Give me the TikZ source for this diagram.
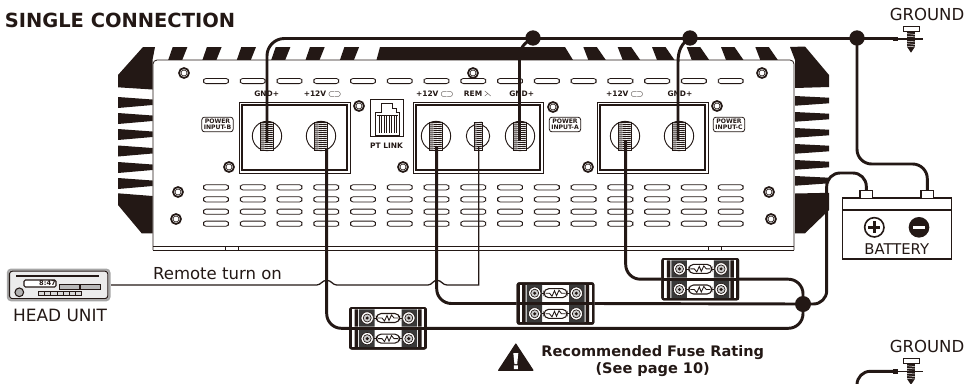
\documentclass[tikz,border=0pt]{standalone}
\usepackage{amsmath}
\usepackage{amssymb}
\usepackage{fontspec}
\usepackage{xcolor}
\setmainfont{DejaVu Sans}
\definecolor{inkblack}{RGB}{35,24,21}
\tikzset{
  wire/.style={color=inkblack,line width=2.2pt,line join=round},
  thinwire/.style={color=inkblack,line width=0.95pt},
  bodyline/.style={color=inkblack,line width=0.6pt},
  solder/.style={circle,fill=inkblack,inner sep=0pt,minimum size=#1},
  termring/.style={circle,draw=inkblack,line width=0.7pt,fill=white,inner sep=0pt,minimum size=#1},
  tinylab/.style={font=\bfseries\fontsize{5.6}{6}\selectfont,color=inkblack,inner sep=0pt},
  pwrlab/.style={font=\bfseries\fontsize{4.6}{4.8}\selectfont,color=inkblack,draw=inkblack,line width=0.6pt,rounded corners=2pt,align=center,inner sep=0pt,minimum width=23.5pt,minimum height=11pt},
  biglab/.style={font=\fontsize{12.4}{14}\selectfont,color=inkblack,inner sep=0pt},
  boldlab/.style={font=\bfseries\fontsize{10.9}{12}\selectfont,color=inkblack,inner sep=0pt},
  fusebox/.style={draw=inkblack,fill=inkblack,line width=0.8pt,rounded corners=1.5pt,inner sep=0pt,minimum width=57.5pt,minimum height=31pt},
  pics/termscrew/.style={code={
    \fill[white] (-#1,-14) rectangle (#1,14);
    \foreach \yy in {-13,-11,...,13.2} {\draw[color=inkblack,line width=0.7pt] (-#1,\yy) -- (#1,\yy+0.8);}
    \draw[color=inkblack,line width=0.45pt] (-#1,-14) rectangle (#1,14);
  }},
  pics/fuserow/.style={code={
    \fill[white] (-36,-8.6) rectangle (36,8.6);
    \fill[inkblack] (-33.5,-8.6) rectangle (-30,8.6) (33.5,-8.6) rectangle (30,8.6);
    \fill[gray!45!black] (-29,-8.6) rectangle (-13.5,8.6) (29,-8.6) rectangle (13.5,8.6);
    \foreach \sx in {-1,1} {
      \draw[color=inkblack,fill=white,line width=0.5pt] (\sx*20.8,0) circle (6.2);
      \draw[color=inkblack,fill=gray!40,line width=0.5pt] (\sx*20.8,0) circle (4);
      \fill[inkblack] (\sx*20.8,0) circle (1.7);
    }
    \draw[color=inkblack,line width=0.5pt] (-14,0) -- (14,0);
    \draw[color=inkblack,fill=white,line width=0.8pt,rounded corners=3.5pt] (-11.5,-4.5) rectangle (11.5,4.5);
    \draw[color=inkblack,line width=0.65pt] (-10,0) -- (-6,0) -- (-3.5,-3) -- (-1,2.5) -- (1,-2.5) -- (3.5,3) -- (6,0) -- (10,0);
  }},
  pics/groundscrew/.style={code={
    \fill[inkblack] (-4,5) rectangle (4,20);
    \fill[inkblack] (-4,20) -- (4,20) -- (0,26) -- cycle;
    \foreach \yy in {7,9.5,...,20} {\draw[white,line width=0.35pt] (-4,\yy) -- (4,\yy+0.7);}
    \draw[color=inkblack,fill=white,line width=0.7pt] (-8,0) rectangle (8,5);
    \draw[color=inkblack,line width=1.2pt] (-14,12.5) -- (12,12.5);
  }},
}

\begin{document}
\begin{tikzpicture}[x=0.75pt,y=0.75pt,yscale=-1,xscale=1]
\useasboundingbox (0,0) rectangle (969,383);

%Shape: Fins
\fill[inkblack] (118,75) -- (143,47) -- (155,47) -- (152.5,60) -- (152.5,89.5) -- (118,87.3) -- cycle;
\fill[inkblack] (829,75) -- (805,46.5) -- (790,47) -- (795,60) -- (795,88) -- (829,87) -- cycle;
\foreach \yy in {97,113,129,145.5,162,178} {
  \fill[inkblack] (118,\yy) -- (152.5,\yy+2.5) -- (152.5,\yy+8) -- (118,\yy+11) -- cycle;
}
\foreach \yy in {96,112,128,144,160,176} {
  \fill[inkblack] (795,\yy) -- (829,\yy+1.7) -- (829,\yy+7.3) -- (795,\yy+9.7) -- cycle;
}
\fill[inkblack] (118,193.3) -- (152.5,196) -- (152.5,233.3) -- (141.7,233.3) -- (118,205) -- cycle;
\fill[inkblack] (829,192.8) -- (795,193.5) -- (795,233.3) -- (805,233.3) -- (829,210) -- cycle;

%Shape: Top stripes
\fill[inkblack] (380,47) -- (565,47) -- (573,60) -- (376.5,60) -- cycle;
\foreach \xx in {172.7,206.9,241.3,275.7,310,344.4} {
  \fill[inkblack] (\xx,47) -- (\xx+14.7,47) -- (\xx+9.5,60) -- (\xx-4.5,60) -- cycle;
}
\foreach \xx in {583.3,617.7,652,686.7,721,755.3} {
  \fill[inkblack] (\xx,47) -- (\xx+13.5,47) -- (\xx+22.5,60) -- (\xx+5,60) -- cycle;
}

%Shape: Body
\draw[bodyline,fill=white,rounded corners=3pt] (153,250) -- (153,60) -- (794,60) -- (794,250);
\draw[bodyline] (153,250) -- (794,250) (153,246) -- (794,246);
\draw[bodyline] (225.5,246) -- (225.5,250) (238,246) -- (238,250) (708,246) -- (708,250) (721,246) -- (721,250);

%Shape: Slots
\foreach \k in {0,...,14} {
  \foreach \yy in {81,187.3,199.4,211.7,223.7} {
    \draw[bodyline,rounded corners=2pt] (216+\k*36.76-12.5,\yy-2.6) rectangle (216+\k*36.76+12.5,\yy+2.6);
  }
}

%Shape: Screws
\foreach \xx/\yy in {184/73,473/73,762/73,359/106,553/107,717/106,229/167,403/167,588/167,178/192,176/219,769/192,771/219} {
  \draw[color=inkblack,fill=white,line width=1.3pt] (\xx,\yy) circle (5);
  \draw[color=inkblack,line width=0.5pt] (\xx,\yy) circle (3);
}

%Shape: Terminal boxes
\foreach \xa/\xb in {239/350,413/543,597/708} {
  \draw[bodyline,fill=white] (\xa,102) rectangle (\xb,173);
  \draw[color=inkblack,line width=0.9pt] (\xa+3,105) rectangle (\xb-3,170);
}

%Shape: Terminals
\node[termring=22pt] (gndB) at (267,136) {};
\node[termring=22pt] (plusB) at (321,136) {};
\node[termring=22pt] (plusA) at (436,136) {};
\node[termring=17.5pt] (remA) at (478,136) {};
\node[termring=22pt] (gndA) at (520,136) {};
\node[termring=22pt] (plusC) at (625,136) {};
\node[termring=22pt] (gndC) at (679,136) {};
\foreach \xx in {267,321,436,520,625,679} {\pic at (\xx,136) {termscrew=6.5};}
\pic at (478,136) {termscrew=4};

%Shape: PT link jack
\draw[bodyline] (370.7,99.3) rectangle (403.3,136);
\draw[bodyline] (375,135) -- (375,112) -- (381.7,112) -- (381.7,103) -- (392.3,103) -- (392.3,108) -- (396,108) -- (396,112) -- (399.5,112) -- (399.5,135) -- cycle;
\foreach \xx in {379,381.5,...,396.5} {\draw[color=inkblack,line width=0.55pt] (\xx,115) -- (\xx,133);}
\draw[bodyline] (377,115) -- (398,115);

% Text Node
\node[tinylab] (labgndB) at (266.7,94) {GND+};
\node[tinylab] (labplusB) at (322.7,94) {+12V$\,\subset\!\supset$};
\node[tinylab] (labplusA) at (435,94) {+12V$\,\subset\!\supset$};
\node[tinylab] (labrem) at (478,94) {REM$\,\leftthreetimes$};
\node[tinylab] (labgndA) at (521.7,94) {GND+};
\node[tinylab] (labplusC) at (625,94) {+12V$\,\subset\!\supset$};
\node[tinylab] (labgndC) at (680,94) {GND+};
\node[tinylab] (labpt) at (386.5,146) {PT LINK};
\node[pwrlab] (inputB) at (217.5,124.5) {POWER\\INPUT-B};
\node[pwrlab] (inputA) at (565,124.5) {POWER\\INPUT-A};
\node[pwrlab] (inputC) at (729,124.5) {POWER\\INPUT-C};

%Shape: Battery
\draw[color=inkblack,fill=white,line width=0.9pt] (842.7,198) rectangle (951.3,259);
\draw[color=inkblack,line width=0.9pt] (842.7,210) -- (951.3,210);
\node[draw=inkblack,fill=white,line width=0.9pt,inner sep=0pt,minimum width=9.5pt,minimum height=5.5pt] (batpos) at (866.3,194.5) {};
\node[draw=inkblack,fill=white,line width=0.9pt,inner sep=0pt,minimum width=9.5pt,minimum height=5.5pt] (batneg) at (927.3,194.5) {};
\node[circle,draw=inkblack,line width=1.2pt,inner sep=0pt,minimum size=14.5pt] (batplus) at (874.3,227.3) {};
\draw[inkblack,line width=1.9pt] (868.3,227.3) -- (880.3,227.3) (874.3,221.3) -- (874.3,233.3);
\node[circle,fill=inkblack,inner sep=0pt,minimum size=15.5pt] (batminus) at (919,227.3) {};
\draw[white,line width=1.9pt] (913,227.3) -- (925,227.3);
\node[biglab,font=\fontsize{11.1}{13}\selectfont] (batlab) at (896.7,249) {BATTERY};

%Shape: Head unit
\draw[color=gray!70,fill=gray!15,line width=1.5pt,rounded corners=2.5pt] (7.8,269.5) rectangle (109.5,300.3);
\draw[color=inkblack,line width=0.8pt,rounded corners=2pt] (9.5,271.2) rectangle (107.8,298.6);
\fill[inkblack] (15.7,274.6) rectangle (99,277.4);
\draw[color=inkblack,fill=white,line width=0.8pt,rounded corners=1pt] (24,280) rectangle (56,287);
\node[font=\bfseries\fontsize{5}{5}\selectfont,color=inkblack,inner sep=0pt] (clock) at (47.5,283.5) {8:47};
\draw[color=inkblack,fill=gray!55,line width=0.6pt] (59,284.7) rectangle (79,289.3) (80.5,284.7) rectangle (100.3,289.3);
\node[circle,draw=inkblack,fill=gray!60,line width=0.8pt,inner sep=0pt,minimum size=6.5pt] (knob) at (19.3,292.3) {};
\foreach \k in {0,...,6} {
  \draw[color=inkblack,fill=gray!30,line width=0.6pt] (38.3+\k*6.2,291) rectangle (38.3+\k*6.2+6.2,295.3);
}
\node[biglab,font=\fontsize{12.7}{14}\selectfont] (headunit) at (60,315) {HEAD UNIT};
\coordinate (headout) at (111,285);

%Shape: Ground screws
\pic[transform shape] at (911,26.7) {groundscrew};
\pic[transform shape] at (911,358.8) {groundscrew};
\fill[inkblack] (893,36.5) rectangle (897.5,41);
\fill[inkblack] (893,369) rectangle (897.5,373.5);
\node[biglab] (gndtop) at (927,14.5) {GROUND};
\node[biglab] (gndbot) at (927,346.7) {GROUND};

% Text Node
\node[anchor=west,inner sep=0pt,color=inkblack,font=\bfseries\fontsize{14.6}{16}\selectfont] (title) at (4.5,20.5) {SINGLE CONNECTION};
\node[biglab] (remotelab) at (217.5,273.5) {Remote turn on};
\node[boldlab] (fuselab) at (652.7,352.7) {Recommended Fuse Rating};
\node[boldlab] (pagelab) at (652.7,369.3) {(See page 10)};

%Shape: Warning
\fill[inkblack,line join=round,draw=inkblack,line width=0.8pt] (515.8,344) -- (533,370.3) -- (498.6,370.3) -- cycle;
\fill[white] (513.3,353) -- (518.3,353) -- (517.2,364) -- (514.4,364) -- cycle (513.8,365.3) rectangle (517.8,369);

%Shape: Dots and wire ends
\coordinate (tipgndB) at (267,142);
\coordinate (tipgndA) at (519.5,140);
\coordinate (tipgndC) at (678,140);
\coordinate (tipplusB) at (326.7,149);
\coordinate (tipplusA) at (436.7,146);
\coordinate (tipplusC) at (625.7,141);
\coordinate (tiprem) at (478.7,146);
\coordinate (gndend) at (893,38.5);
\coordinate (gndendbot) at (893,371.3);
\coordinate (gndlow) at (857,395);
\coordinate (batdrop) at (857,164);
\coordinate (batloop) at (826.7,173);

\node[solder=11.5pt] (dotA) at (533,38) {};
\node[solder=11.5pt] (dotC) at (690,38) {};
\node[solder=11.5pt] (dotgnd) at (857,38) {};
\node[solder=12pt] (dotbat) at (803,304) {};

% Fuses placed first for their names
\node[fusebox] (fuseC) at (700.3,279.2) {};
\node[fusebox] (fuseA) at (555.5,303.5) {};
\node[fusebox] (fuseB) at (388,328.3) {};

%Straight Lines: thin remote wire
\draw[thinwire] (headout) -- (316.7,285) .. controls (321,285) and (322,280.3) .. (326.7,280.3) .. controls (331.5,280.3) and (332.5,285) .. (336.7,285) -- (428,285) .. controls (432,285) and (433,280.3) .. (437,280.3) .. controls (441.5,280.3) and (442.5,285) .. (447,285) -- (478.7,285) -- (tiprem);

%Straight Lines: ground side
\draw[wire,rounded corners=13pt] (tipgndB) |- (gndend);
\draw[wire] (tipgndA) -- (519.5,58) .. controls (519.5,48) and (524,43) .. (dotA.center);
\draw[wire] (tipgndC) -- (678,62) .. controls (678,50) and (682,43) .. (dotC.center);
\draw[wire,rounded corners=11pt] (dotgnd.center) -- (batdrop) -| (batneg.north);
\draw[wire,rounded corners=10pt] (gndlow) |- (gndendbot);

%Straight Lines: power side
\draw[wire,rounded corners=11pt] (tipplusC) |- (fuseC.west);
\draw[wire,rounded corners=11pt] (tipplusA) |- (fuseA.west);
\draw[wire,rounded corners=11pt] (tipplusB) |- (fuseB.west);
\draw[wire,rounded corners=11pt] (fuseC.east) -| (dotbat.center);
\draw[wire] (fuseA.east) -- (dotbat.center);
\draw[wire,rounded corners=11pt] (fuseB.east) -| (dotbat.center);
\draw[wire,rounded corners=10pt] (dotbat.center) -| (batloop) -| (batpos.north);

%Shape: Fuse holders
\foreach \nm/\xx/\yy in {fuseC/700.3/279.2,fuseA/555.5/303.5,fuseB/388/328.3} {
  \node[fusebox] at (\nm.center) {};
  \pic at (\xx,\yy-10.3) {fuserow};
  \pic at (\xx,\yy+10.3) {fuserow};
}
\end{tikzpicture}
\end{document}
